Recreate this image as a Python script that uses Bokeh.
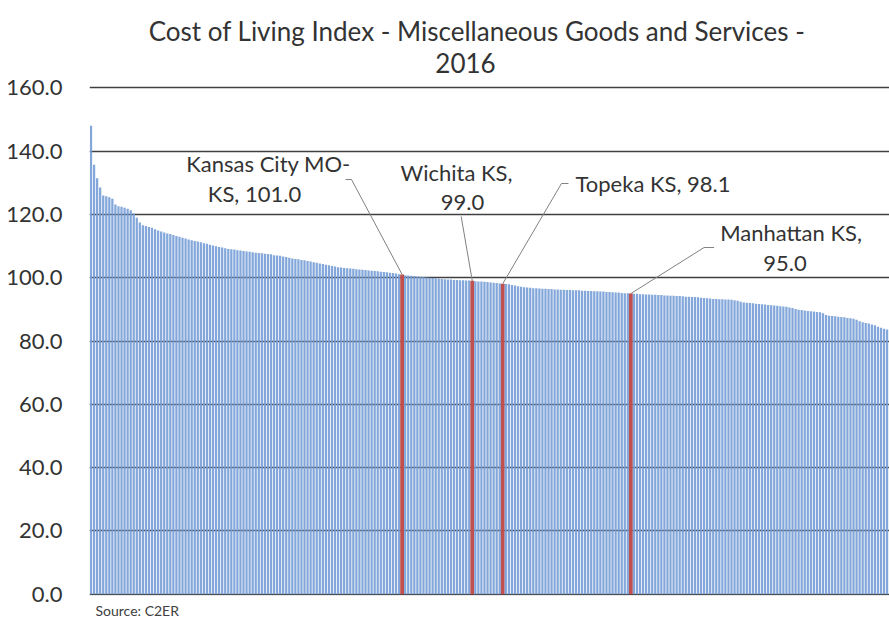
from bokeh.plotting import figure
from bokeh.models import Range1d, FixedTicker, NumeralTickFormatter, Title, ColumnDataSource
from bokeh.core.properties import value
from bokeh.embed import file_html
from bokeh.resources import INLINE

# ---- data ----
index_values = [
    148.0, 135.7, 131.4, 128.5, 126.0, 125.7, 125.4, 124.9, 123.1, 122.6,
    122.4, 122.1, 121.8, 121.3, 120.3, 118.9, 117.4, 116.6, 116.3, 116.0,
    115.8, 115.3, 114.9, 114.6, 114.3, 114.0, 113.8, 113.5, 113.2, 112.9,
    112.6, 112.4, 112.1, 111.8, 111.6, 111.4, 111.2, 110.9, 110.7, 110.4,
    110.2, 109.9, 109.7, 109.5, 109.3, 109.1, 109.0, 108.9, 108.7, 108.6,
    108.4, 108.3, 108.2, 108.0, 107.9, 107.8, 107.7, 107.6, 107.5, 107.4,
    107.1, 107.0, 106.9, 106.7, 106.5, 106.3, 106.1, 105.9, 105.8, 105.6,
    105.5, 105.3, 105.1, 104.9, 104.7, 104.5, 104.3, 104.1, 103.9, 103.7,
    103.5, 103.3, 103.2, 103.1, 103.0, 102.9, 102.8, 102.7, 102.6, 102.5,
    102.4, 102.3, 102.2, 102.1, 102.0, 101.9, 101.8, 101.7, 101.6, 101.5,
    101.3, 101.1, 101.0, 100.8, 100.7, 100.6, 100.5, 100.4, 100.3, 100.2,
    100.1, 100.0, 99.9, 99.8, 99.7, 99.6, 99.5, 99.4, 99.4, 99.3,
    99.3, 99.2, 99.2, 99.1, 99.1, 99.0, 98.9, 98.8, 98.8, 98.7,
    98.6, 98.5, 98.4, 98.3, 98.2, 98.1, 98.0, 97.9, 97.7, 97.5,
    97.3, 97.1, 97.0, 96.9, 96.8, 96.7, 96.7, 96.6, 96.5, 96.5,
    96.4, 96.4, 96.3, 96.3, 96.2, 96.2, 96.1, 96.1, 96.0, 96.0,
    96.0, 95.9, 95.9, 95.8, 95.8, 95.7, 95.7, 95.6, 95.6, 95.5,
    95.5, 95.4, 95.3, 95.3, 95.2, 95.1, 95.1, 95.0, 94.9, 94.9,
    94.8, 94.8, 94.7, 94.7, 94.6, 94.6, 94.5, 94.5, 94.4, 94.4,
    94.3, 94.3, 94.2, 94.2, 94.1, 94.0, 94.0, 93.9, 93.9, 93.8,
    93.7, 93.6, 93.5, 93.4, 93.3, 93.3, 93.2, 93.2, 93.1, 93.1,
    93.0, 92.9, 92.7, 92.4, 92.2, 92.1, 92.0, 91.9, 91.8, 91.7,
    91.6, 91.5, 91.4, 91.3, 91.2, 91.1, 91.0, 90.9, 90.8, 90.6,
    90.4, 90.1, 89.9, 89.8, 89.6, 89.5, 89.4, 89.3, 89.2, 89.1,
    88.8, 88.2, 88.0, 87.9, 87.8, 87.7, 87.6, 87.5, 87.3, 87.2,
    87.0, 86.7, 86.2, 85.9, 85.7, 85.5, 85.2, 85.0, 84.5, 84.2,
    83.9, 83.6,
]

highlight_names = ["Kansas City MO-KS", "Wichita KS", "Topeka KS", "Manhattan KS"]
highlight_values = [101.0, 99.0, 98.1, 95.0]
highlight_rank = [103, 126, 136, 178]  # 1-based rank in the sorted list
highlight_label_lines = [
    ["Kansas City MO-", "KS, 101.0"],
    ["Wichita KS,", "99.0"],
    ["Topeka KS, 98.1"],
    ["Manhattan KS,", "95.0"],
]

y_ticks = [0, 20, 40, 60, 80, 100, 120, 140, 160]
title_lines = ["Cost of Living Index - Miscellaneous Goods and Services -", "2016"]
source_text = "Source: C2ER"

# ---- layout constants (pixels) ----
W, H = 889, 641
ML, MB = 89, 46
FRAME_BOTTOM = H - MB            # 595
PX_PER_BAR = 3.05
FRAME_W = W - ML
Y0, Y160 = -0.4, 160.4
PX_PER_UNIT = (FRAME_BOTTOM - 86) / (Y160 - Y0)   # plot area 86..595 px for -0.4..160.4
Y_TOP = Y0 + FRAME_BOTTOM / PX_PER_UNIT           # frame extended to top of canvas for the title
TITLE_POS = [(476.5, 30), (465, 62)]              # pixel centres of the title lines

BLUE = "#769dd6"
RED = "#c0504d"
TXT = "#333333"
FONT = "Lato"


def px_to_x(px):
    return -0.5 + (px - ML) / PX_PER_BAR


def px_to_y(py):
    return Y0 + (FRAME_BOTTOM - py) / PX_PER_UNIT


n = len(index_values)
hi_idx = [r - 1 for r in highlight_rank]
colors = [RED if i in hi_idx else BLUE for i in range(n)]
widths = [1.25 if i in hi_idx else 0.74 for i in range(n)]
alphas = [1.0 if i in hi_idx else 0.9 for i in range(n)]
src = ColumnDataSource(dict(x=list(range(n)), top=index_values, color=colors, w=widths, a=alphas))

p = figure(width=W, height=H, output_backend="svg", toolbar_location=None,
           x_range=Range1d(-0.5, -0.5 + FRAME_W / PX_PER_BAR),
           y_range=Range1d(Y0, Y_TOP),
           min_border_left=ML, min_border_right=0, min_border_top=0, min_border_bottom=MB,
           title=None)
p.outline_line_color = None
p.background_fill_color = "white"
p.border_fill_color = "white"

p.xaxis.visible = False
p.xgrid.visible = False

p.yaxis.ticker = FixedTicker(ticks=y_ticks)
p.yaxis.formatter = NumeralTickFormatter(format="0.0")
p.yaxis.axis_line_color = None
p.yaxis.major_tick_line_color = None
p.yaxis.minor_tick_line_color = None
p.yaxis.major_tick_out = 0
p.yaxis.major_tick_in = 0
p.yaxis.major_label_standoff = 27
p.yaxis.major_label_text_font = FONT
p.yaxis.major_label_text_font_size = "22px"
p.yaxis.major_label_text_color = TXT

p.ygrid.ticker = FixedTicker(ticks=y_ticks)
p.ygrid.grid_line_color = "#404040"
p.ygrid.grid_line_width = 1.5

p.vbar(x="x", top="top", bottom=0, width="w", fill_color="color", fill_alpha="a",
       line_color=None, source=src)

# ---- callouts (offsets in screen pixels relative to the bar top) ----
label_offsets = [
    [(-133.6, -111), (-147.6, -81)],
    [(-15.8, -108.4), (-9.8, -78.4)],
    [(72.7, -100.2)],
    [(160.2, -61), (154.2, -30)],
]
label_aligns = ["center", "center", "left", "center"]
leader_points = [
    [(0, 0), (-50.6, -95), (-56.6, -95)],
    [(0, 0), (-11.1, -64.4)],
    [(0, 0), (58.7, -100.2), (65.7, -100.2)],
    [(0, 0), (73.2, -46), (83.2, -46)],
]

xs, ys = [], []
for k, i in enumerate(hi_idx):
    v = index_values[i]
    xs.append([i + dx / PX_PER_BAR for dx, dy in leader_points[k]])
    ys.append([v - dy / PX_PER_UNIT for dx, dy in leader_points[k]])
    for line, (dx, dy) in zip(highlight_label_lines[k], label_offsets[k]):
        p.text(x=[i], y=[v], text=[line], x_offset=dx, y_offset=dy,
               text_align=label_aligns[k], text_baseline="middle",
               text_font=value(FONT), text_font_size=value("22px"), text_color=TXT)
p.multi_line(xs=xs, ys=ys, line_color="#808080", line_width=1)

# ---- title (two centred lines) ----
for line, (tx, ty) in zip(title_lines, TITLE_POS):
    p.text(x=[px_to_x(tx)], y=[px_to_y(ty)], text=[line],
           text_align="center", text_baseline="middle",
           text_font=value(FONT), text_font_size=value("26px"), text_color=TXT)

src_title = Title(text=source_text, align="left", text_font=FONT, text_font_size="14px",
                  text_font_style="normal", text_color="#404040", offset=6, standoff=8)
p.add_layout(src_title, "below")

open("out.html", "w").write(file_html(p, INLINE))
